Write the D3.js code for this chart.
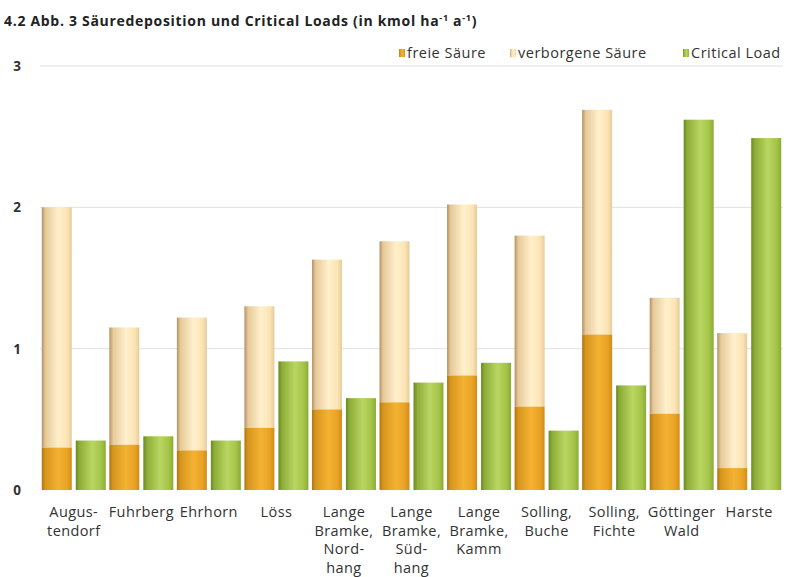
<!DOCTYPE html>
<html>
<head>
<meta charset="utf-8">
<script src="https://cdn.jsdelivr.net/npm/d3@7"></script>
<style>
  body { margin:0; background:#fff; }
  svg { font-family:"Open Sans","Noto Sans",sans-serif; }
</style>
</head>
<body>
<svg id="chart" width="793" height="577"></svg>
<script>
// sites (lines of the x labels)
var sites = [
  ["Augus-","tendorf"],
  ["Fuhrberg"],
  ["Ehrhorn"],
  ["Löss"],
  ["Lange","Bramke,","Nord-","hang"],
  ["Lange","Bramke,","Süd-","hang"],
  ["Lange","Bramke,","Kamm"],
  ["Solling,","Buche"],
  ["Solling,","Fichte"],
  ["Göttinger","Wald"],
  ["Harste"]
];
var freieSaeure     = [0.30, 0.32, 0.28, 0.44, 0.57, 0.62, 0.81, 0.59, 1.10, 0.54, 0.155];
var gesamtSaeure    = [2.00, 1.15, 1.22, 1.30, 1.63, 1.76, 2.02, 1.80, 2.69, 1.36, 1.11];
var criticalLoad    = [0.35, 0.38, 0.35, 0.91, 0.65, 0.76, 0.90, 0.42, 0.74, 2.62, 2.49];
var yTicks = [0, 1, 2, 3];
var legendItems = ["freie Säure", "verborgene Säure", "Critical Load"];

var svg = d3.select("#chart");
var margin = {left:40, right:10, top:66, bottom:87};
var W = 793, H = 577;

var x = d3.scaleBand().domain(d3.range(sites.length))
  .range([margin.left, W - margin.right]).paddingInner(0).paddingOuter(0);
var y = d3.scaleLinear().domain([0, 3]).range([H - margin.bottom, margin.top]);

// gradients (cylinder look)
var defs = svg.append("defs");
function grad(id, stops) {
  var g = defs.append("linearGradient").attr("id", id).attr("x1","0").attr("x2","1").attr("y1","0").attr("y2","0");
  stops.forEach(function(s){ g.append("stop").attr("offset", s[0]).attr("stop-color", s[1]); });
}
grad("gOrange", [[0,"#b07510"],[0.12,"#d6961e"],[0.55,"#f4b232"],[0.85,"#e9a224"],[1,"#d08c18"]]);
grad("gCream",  [[0,"#b39166"],[0.12,"#e6c998"],[0.55,"#fff0cc"],[0.85,"#fbe4b4"],[1,"#e6cb9a"]]);
grad("gGreen",  [[0,"#6a8823"],[0.12,"#8cad38"],[0.55,"#bad662"],[0.85,"#a4c448"],[1,"#8aaa35"]]);

// grid
svg.append("g").selectAll("line").data(yTicks.filter(function(d){return d>0;})).join("line")
  .attr("x1", margin.left).attr("x2", W - margin.right)
  .attr("y1", function(d){return y(d);}).attr("y2", function(d){return y(d);})
  .attr("stroke", "#e0e0e0").attr("stroke-width", 1);

// y axis labels
svg.append("g").selectAll("text").data(yTicks).join("text")
  .attr("x", 17).attr("y", function(d){return y(d) + 5;})
  .attr("text-anchor", "middle")
  .attr("font-size", 13.5).attr("font-weight", "bold").attr("fill", "#333")
  .text(function(d){return d;});

var bw = 30, gap = 4;
var bars = svg.append("g");
sites.forEach(function(s, i) {
  var x0 = x(i) + (x.bandwidth() - 2*bw - gap)/2;
  // verborgene Säure (upper part of the stack)
  bars.append("rect").attr("x", x0).attr("width", bw)
    .attr("y", y(gesamtSaeure[i])).attr("height", y(freieSaeure[i]) - y(gesamtSaeure[i]))
    .attr("fill", "url(#gCream)");
  // freie Säure
  bars.append("rect").attr("x", x0).attr("width", bw)
    .attr("y", y(freieSaeure[i])).attr("height", y(0) - y(freieSaeure[i]))
    .attr("fill", "url(#gOrange)");
  // critical load
  bars.append("rect").attr("x", x0 + bw + gap).attr("width", bw)
    .attr("y", y(criticalLoad[i])).attr("height", y(0) - y(criticalLoad[i]))
    .attr("fill", "url(#gGreen)");
});

// x labels
var xl = svg.append("g");
sites.forEach(function(lines, i) {
  var cx = x(i) + x.bandwidth()/2;
  var t = xl.append("text").attr("x", cx).attr("y", 517)
    .attr("text-anchor", "middle").attr("font-size", 14.5)
    .attr("letter-spacing", "0.4").attr("fill", "#333");
  lines.forEach(function(l, k) {
    t.append("tspan").attr("x", cx).attr("dy", k === 0 ? 0 : 18.7).text(l);
  });
});

// title
var title = svg.append("text").attr("x", 4).attr("y", 26)
  .attr("font-size", 14).attr("font-weight", "bold").attr("fill", "#222")
  .attr("letter-spacing", "0.7");
title.append("tspan").text("4.2 Abb. 3 Säuredeposition und Critical Loads (in kmol ha");
title.append("tspan").attr("font-size", 9).attr("dy", -5).text("-1");
title.append("tspan").attr("dy", 5).text(" a");
title.append("tspan").attr("font-size", 9).attr("dy", -5).text("-1");
title.append("tspan").attr("dy", 5).text(")");

// legend
var legendX = [399, 510, 683];
var legendFill = ["url(#gOrange)", "url(#gCream)", "url(#gGreen)"];
var lg = svg.append("g");
legendItems.forEach(function(name, i) {
  lg.append("rect").attr("x", legendX[i]).attr("y", 49).attr("width", 6).attr("height", 8)
    .attr("fill", legendFill[i]);
  lg.append("text").attr("x", legendX[i] + 8).attr("y", 58)
    .attr("font-size", 14.5).attr("letter-spacing", "0.5").attr("fill", "#333").text(name);
});
</script>
</body>
</html>
